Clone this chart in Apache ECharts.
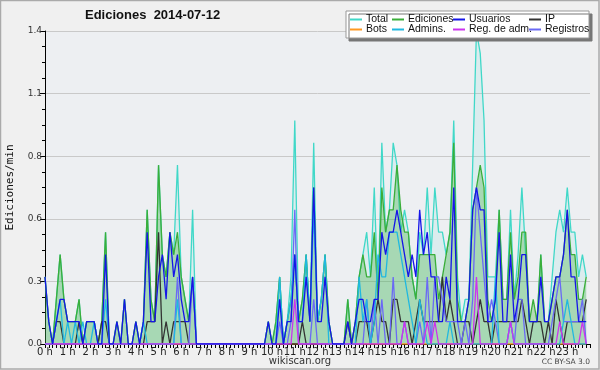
<!DOCTYPE html>
<html><head><meta charset="utf-8">
<script src="https://cdn.jsdelivr.net/npm/echarts@6/dist/echarts.min.js"></script>
<style>html,body{margin:0;padding:0;background:#f0f0f0}#c{width:600px;height:370px}</style>
</head><body><div id="c"></div>
<script>
// hour tick labels
const hourLabels = ['0 h','1 h','2 h','3 h','4 h','5 h','6 h','7 h','8 h','9 h','10 h','11 h','12 h','13 h','14 h','15 h','16 h','17 h','18 h','19 h','20 h','21 h','22 h','23 h'];
const yTicks = [0, 0.28, 0.56, 0.84, 1.12, 1.4];
// values per 10-minute bin (edits per minute), one row per hour
const total = [
0.3,0.1,0,0.2,0.4,0.2, 0.1,0.1,0.1,0.2,0,0.1, 0.1,0.1,0,0.1,0.5,0, 0,0.1,0,0.2,0,0,
0.1,0,0.1,0.6,0.2,0.1, 0.8,0.4,0.3,0.5,0.4,0.8, 0.3,0.2,0.1,0.6,0,0, 0,0,0,0,0,0,
0,0,0,0,0,0, 0,0,0,0,0,0.1, 0,0.1,0.3,0,0.1,0.3, 1.0,0.1,0.2,0.4,0.1,0.9,
0.1,0.2,0.4,0.1,0,0, 0,0,0.2,0,0.1,0.3, 0.4,0.5,0.3,0.7,0.2,0.9, 0.5,0.6,0.9,0.8,0.5,0.6,
0.5,0.3,0.2,0.5,0.4,0.7, 0.4,0.7,0.5,0.5,0.4,0.5, 1.0,0.3,0.1,0.2,0.2,0.8, 1.4,1.3,1.0,0.3,0.3,0.3,
0.6,0.2,0.2,0.6,0.2,0.4, 0.7,0.4,0.1,0.1,0.1,0.4, 0.1,0.1,0.3,0.5,0.6,0.5, 0.7,0.5,0.5,0.3,0.4,0.3];
const ediciones = [
0.3,0.1,0,0.2,0.4,0.2, 0.1,0.1,0.1,0.2,0,0.1, 0.1,0.1,0,0.1,0.5,0, 0,0.1,0,0.2,0,0,
0.1,0,0.1,0.6,0.2,0.1, 0.8,0.4,0.3,0.5,0.4,0.5, 0.3,0.2,0.1,0.3,0,0, 0,0,0,0,0,0,
0,0,0,0,0,0, 0,0,0,0,0,0.1, 0,0.1,0.3,0,0.1,0.2, 0.4,0.1,0.2,0.4,0.1,0.7,
0.1,0.2,0.4,0.1,0,0, 0,0,0.2,0,0.1,0.3, 0.4,0.3,0.3,0.5,0.2,0.7, 0.5,0.6,0.6,0.8,0.6,0.5,
0.5,0.3,0.2,0.4,0.4,0.4, 0.4,0.4,0.2,0.3,0.4,0.5, 0.9,0.2,0.1,0.1,0.2,0.6, 0.7,0.8,0.7,0.2,0.1,0.2,
0.6,0.2,0.2,0.5,0.2,0.3, 0.5,0.5,0.1,0.2,0.1,0.4, 0.1,0.1,0.2,0.3,0.3,0.4, 0.6,0.4,0.4,0.2,0.2,0.3];
const usuarios = [
0.3,0.1,0,0.1,0.2,0.2, 0.1,0.1,0.1,0.1,0,0.1, 0.1,0.1,0,0,0.4,0, 0,0.1,0,0.2,0,0,
0.1,0,0.1,0.5,0.1,0.1, 0.3,0.4,0.2,0.5,0.3,0.4, 0.2,0.1,0.1,0.3,0,0, 0,0,0,0,0,0,
0,0,0,0,0,0, 0,0,0,0,0,0.1, 0,0,0.2,0,0.1,0.1, 0.4,0.1,0.1,0.3,0.1,0.7,
0.1,0.1,0.3,0.1,0,0, 0,0,0.1,0,0.1,0.2, 0.2,0.1,0.1,0.2,0.2,0.5, 0.4,0.5,0.5,0.6,0.5,0.4,
0.3,0.4,0.3,0.6,0.4,0.5, 0.3,0.3,0.1,0.1,0.3,0.2, 0.7,0.1,0.1,0.1,0.2,0.6, 0.7,0.6,0.6,0.1,0.1,0.2,
0.5,0.1,0.1,0.4,0.1,0.2, 0.4,0.4,0.1,0.1,0.1,0.3, 0.1,0.1,0.2,0.3,0.3,0.4, 0.6,0.3,0.3,0.1,0.1,0.1];
const ip = [
0,0,0,0.1,0.1,0, 0,0,0,0.1,0,0, 0,0,0,0.1,0.1,0, 0,0,0,0,0,0,
0,0,0,0.1,0.1,0.1, 0.5,0,0.1,0,0.1,0.1, 0.1,0.1,0,0,0,0, 0,0,0,0,0,0,
0,0,0,0,0,0, 0,0,0,0,0,0, 0,0,0,0,0,0, 0,0,0.1,0,0,0,
0,0,0,0,0,0, 0,0,0.1,0,0,0.1, 0.1,0.1,0,0.1,0.2,0.1, 0.1,0,0.2,0.2,0.1,0.1,
0.1,0,0.1,0.2,0.1,0.1, 0.1,0.1,0.1,0.3,0.1,0.2, 0.1,0,0,0.1,0.1,0, 0.1,0.2,0.1,0.1,0,0.1,
0.1,0.1,0.1,0.1,0.1,0.1, 0.2,0.1,0,0.1,0.1,0.1, 0,0.1,0,0.2,0.1,0, 0.1,0.1,0.1,0.1,0.1,0.2];
const bots = [
0,0,0,0,0,0, 0,0,0,0,0,0, 0,0,0,0,0,0, 0,0,0,0,0,0,
0,0,0,0,0,0, 0,0,0,0,0,0, 0,0,0,0,0,0, 0,0,0,0,0,0,
0,0,0,0,0,0, 0,0,0,0,0,0, 0,0,0,0,0,0, 0,0,0,0,0,0,
0,0,0,0,0,0, 0,0,0,0,0,0, 0,0,0,0,0,0, 0,0,0,0,0,0,
0,0,0,0,0,0, 0,0,0,0,0,0, 0,0,0,0,0,0, 0,0,0,0,0,0,
0,0,0,0,0,0, 0,0,0,0,0,0, 0,0,0,0,0,0, 0,0,0,0,0,0];
const admins = [
0,0,0,0.1,0.2,0, 0.1,0,0.1,0,0.1,0, 0,0.1,0,0,0.2,0, 0,0,0,0,0,0,
0,0,0.1,0,0,0, 0,0,0,0,0,0.2, 0,0,0,0,0,0, 0,0,0,0,0,0,
0,0,0,0,0,0, 0,0,0,0,0,0, 0,0,0.3,0,0.1,0.2, 0.4,0.1,0.1,0.4,0.1,0.6,
0.1,0.2,0.4,0,0,0, 0,0,0,0,0,0.3, 0.1,0.2,0,0.1,0.4,0.3, 0.3,0.5,0.5,0.5,0.4,0.3,
0.2,0.1,0,0.2,0.1,0, 0,0,0,0,0,0.1, 0,0,0,0,0,0, 0,0,0,0,0,0.3,
0,0,0,0.1,0,0, 0,0,0,0,0,0, 0,0,0,0,0,0.1, 0.2,0.1,0,0,0,0];
const regAdm = [
0,0,0,0,0,0, 0,0,0,0,0,0, 0,0,0,0,0,0, 0,0,0,0,0,0,
0,0,0,0,0,0, 0,0,0,0,0,0, 0,0,0,0,0,0, 0,0,0,0,0,0,
0,0,0,0,0,0, 0,0,0,0,0,0, 0,0,0,0,0,0, 0.2,0,0,0,0,0,
0,0,0,0,0,0, 0,0,0,0,0,0, 0,0,0,0,0,0, 0,0,0,0,0,0.1,
0,0,0,0,0,0.1, 0,0.1,0,0,0,0, 0,0,0,0,0,0, 0.3,0,0,0,0,0,
0,0,0,0.1,0,0, 0,0,0,0,0,0, 0,0,0,0,0.1,0, 0,0,0,0,0.1,0];
const registros = [
0,0,0,0,0,0, 0,0,0,0,0,0, 0,0,0,0,0,0, 0,0,0,0,0,0,
0,0,0,0,0,0, 0,0,0,0,0,0.3, 0,0,0,0.3,0,0, 0,0,0,0,0,0,
0,0,0,0,0,0, 0,0,0,0,0,0, 0,0,0.1,0,0,0.1, 0.6,0,0,0,0,0.2,
0,0,0,0,0,0, 0,0,0,0,0,0, 0,0.2,0,0.2,0,0.2, 0,0,0.3,0,0,0.1,
0,0,0,0.1,0,0.3, 0,0.3,0.3,0.2,0.1,0.1, 0.1,0.1,0,0.1,0,0.2, 0.7,0.5,0.3,0.1,0.2,0.1,
0,0,0,0.1,0,0.2, 0.2,0,0,0,0,0, 0,0,0.1,0.2,0.3,0.1, 0.1,0.1,0.1,0.1,0.2,0];

const times = [];
for (let i = 0; i <= 144; i++) times.push(String(Math.floor(i/6)).padStart(2,'0') + ':' + String((i%6)*10).padStart(2,'0'));

const colors = {
  'Total':'#40d8c8', 'Ediciones':'#3aae3a', 'Usuarios':'#1515e8', 'IP':'#333333',
  'Bots':'#ff9922', 'Admins.':'#20b8e0', 'Reg. de adm.':'#cc33ee', 'Registros':'#6a6af5'
};
const chart = echarts.init(document.getElementById('c'), null, {renderer:'canvas'});
const FONT = 'Liberation Sans';
function line(name, data, z, extra) {
  const color = colors[name];
  return Object.assign({
    name, type:'line', data, symbol:'none', z, color,
    lineStyle:{color, width:1.3}, emphasis:{disabled:true}, animation:false
  }, extra||{});
}
function legendItem(n) { return {name:n, itemStyle:{color:colors[n], opacity:1, borderWidth:0}}; }
const legendCommon = {orient:'vertical', top:14, itemGap:-1, itemWidth:12, itemHeight:2, icon:'rect', padding:0,
  itemStyle:{borderWidth:0}, lineStyle:{width:0},
  textStyle:{fontFamily:FONT, fontSize:10.5, color:'#111', lineHeight:11, padding:[0,0,0,-1]}, selectedMode:false, z:20};
chart.setOption({
  backgroundColor:'#f0f0f0',
  animation:false,
  title:{text:'Ediciones  2014-07-12', left:85, top:9, padding:0, textStyle:{fontFamily:FONT, fontSize:13, fontWeight:'bold', color:'#111'}},
  grid:{left:45, right:10, top:31, bottom:26, show:true, backgroundColor:'#edeff2', borderWidth:0, containLabel:false, outerBoundsMode:'none'},
  legend:[
    Object.assign({left:350, data:['Total','Bots'].map(legendItem)}, legendCommon),
    Object.assign({left:392, data:['Ediciones','Admins.'].map(legendItem)}, legendCommon),
    Object.assign({left:453, data:['Usuarios','Reg. de adm.'].map(legendItem)}, legendCommon),
    Object.assign({left:529, data:['IP','Registros'].map(legendItem)}, legendCommon)
  ],
  xAxis:{type:'category', data:times, boundaryGap:false,
    axisLine:{lineStyle:{color:'#000', width:1}},
    axisTick:{interval:0, length:4, lineStyle:{color:'#000'}},
    axisLabel:{interval:function(i){return i%6===0 && i<144;}, formatter:function(v,i){return hourLabels[i/6]||'';},
      fontFamily:'DejaVu Sans', fontSize:10, color:'#222', margin:3},
    splitLine:{show:false}},
  yAxis:{type:'value', min:yTicks[0], max:yTicks[yTicks.length-1], interval:0.28,
    name:'Ediciones/min', nameLocation:'middle', nameGap:29, nameRotate:90,
    nameTextStyle:{fontFamily:'DejaVu Sans Mono', fontSize:11, color:'#111'},
    axisLine:{show:true, lineStyle:{color:'#000'}},
    axisTick:{show:true, length:5, lineStyle:{color:'#000'}},
    minorTick:{show:true, splitNumber:4, length:3, lineStyle:{color:'#000'}},
    axisLabel:{formatter:function(v){return v.toFixed(1);}, fontFamily:'DejaVu Sans', fontSize:9, color:'#333', margin:3},
    splitLine:{show:true, lineStyle:{color:'#c9c9c9', width:1}}},
  series:[
    line('Total', total, 1, {areaStyle:{color:'rgba(64,216,200,0.14)'}}),
    line('Ediciones', ediciones, 2, {areaStyle:{color:'rgba(58,174,58,0.45)'}}),
    line('Bots', bots, 3),
    line('IP', ip, 4),
    line('Registros', registros, 5),
    line('Admins.', admins, 6),
    line('Reg. de adm.', regAdm, 7),
    line('Usuarios', usuarios, 8)
  ],
  graphic:[
    {type:'rect', z:10, shape:{x:346, y:11, width:243, height:27}, style:{fill:'#fff', stroke:'#999', lineWidth:1, shadowColor:'#777', shadowOffsetX:3, shadowOffsetY:3, shadowBlur:0}},
    {type:'text', z:10, left:'center', top:356, style:{text:'wikiscan.org', fontFamily:'DejaVu Sans', fontSize:10, fill:'#333'}},
    {type:'text', z:10, right:10, top:358, style:{text:'CC BY-SA 3.0', fontFamily:'DejaVu Sans', fontSize:7.5, fill:'#444'}},
    {type:'rect', z:0, silent:true, shape:{x:0.5, y:0.5, width:598.5, height:368.5}, style:{fill:'none', stroke:'#aaa', lineWidth:1.5}}
  ]
});
</script></body></html>
